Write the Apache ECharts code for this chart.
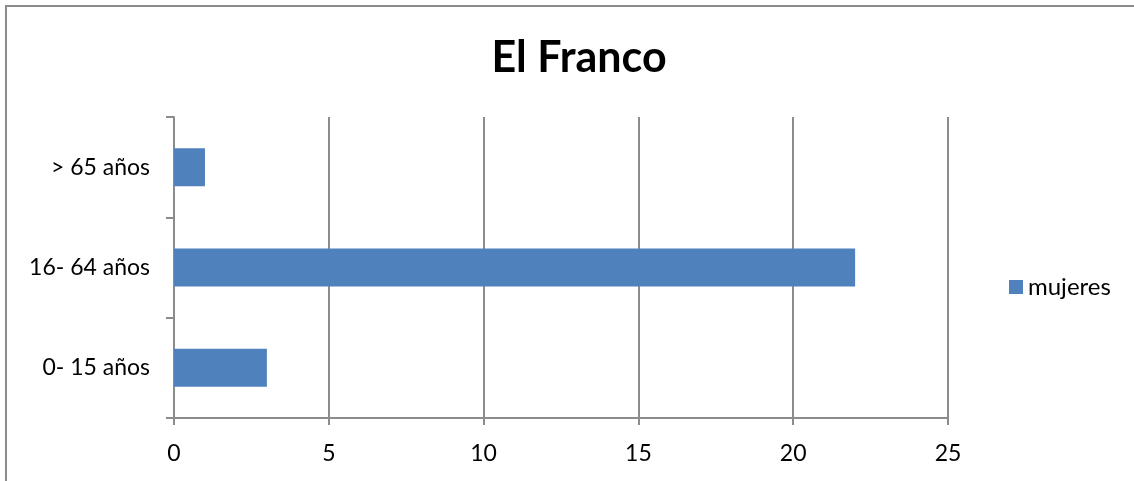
<!DOCTYPE html>
<html>
<head>
<meta charset="utf-8">
<script src="https://cdn.jsdelivr.net/npm/echarts@6/dist/echarts.min.js"></script>
<style>
  html, body { margin: 0; padding: 0; background: #fff; overflow: hidden; width: 1134px; height: 481px; }
  #frame {
    position: absolute; left: 5px; top: 5px; width: 1140px; height: 490px;
    border: 2px solid #8c8c8c; box-sizing: border-box;
  }
  #chart { position: absolute; left: 0; top: 0; width: 1134px; height: 481px; }
</style>
</head>
<body>
<div id="frame"></div>
<div id="chart"></div>
<script>
const categories = ['0- 15 años', '16- 64 años', '> 65 años']
const mujeres = [3, 22, 1]
const xTicks = [0, 5, 10, 15, 20, 25]

const font = 'Lato, "Open Sans", sans-serif'
const chart = echarts.init(document.getElementById('chart'))
chart.setOption({
  animation: false,
  title: {
    text: 'El Franco',
    left: 574,
    top: 32,
    textAlign: 'center',
    textStyle: { fontFamily: font, fontSize: 43, fontWeight: 'bold', color: '#000' }
  },
  legend: {
    left: 1004,
    top: 270,
    itemWidth: 14,
    itemHeight: 14,
    itemGap: 5,
    icon: 'rect',
    textStyle: { fontFamily: font, fontSize: 24, color: '#000', padding: [0, 0, 0, 0] },
    data: ['mujeres']
  },
  grid: { left: 174, right: 186, top: 117, bottom: 63 },
  xAxis: {
    type: 'value',
    min: xTicks[0],
    max: xTicks[xTicks.length - 1],
    interval: 5,
    axisLine: { show: true, lineStyle: { color: '#8c8c8c', width: 2 } },
    axisTick: { show: true, length: 7, lineStyle: { color: '#8c8c8c', width: 2 } },
    axisLabel: { fontFamily: font, fontSize: 23, color: '#000', margin: 24 },
    splitLine: { show: true, lineStyle: { color: '#8c8c8c', width: 2 } }
  },
  yAxis: {
    type: 'category',
    data: categories,
    axisLine: { show: true, lineStyle: { color: '#8c8c8c', width: 2 } },
    axisTick: { show: true, length: 8, lineStyle: { color: '#8c8c8c', width: 2 } },
    axisLabel: { fontFamily: font, fontSize: 23, color: '#000', margin: 24 }
  },
  series: [
    {
      name: 'mujeres',
      type: 'bar',
      data: mujeres,
      barWidth: 38,
      itemStyle: { color: '#4f81bd' }
    }
  ]
})
</script>
</body>
</html>
